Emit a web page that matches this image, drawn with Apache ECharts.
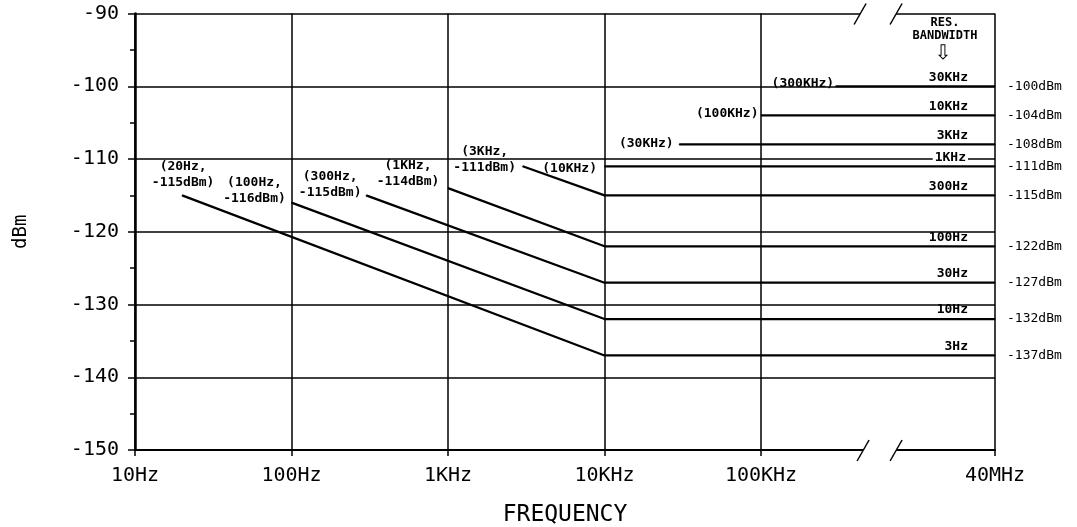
<!DOCTYPE html>
<html><head><meta charset="utf-8">
<script src="https://cdn.jsdelivr.net/npm/echarts@6/dist/echarts.min.js"></script>
<style>html,body{margin:0;padding:0;background:#fff}#c{width:1077px;height:527px}</style>
</head><body><div id="c"></div>
<script>
// ---------- data ----------
const xTickFreqs  = [10, 100, 1e3, 1e4, 1e5, 4e7];
const xTickLabels = ['10Hz', '100Hz', '1KHz', '10KHz', '100KHz', '40MHz'];
const yTicks      = [-150, -140, -130, -120, -110, -100, -90];
const rbwNames    = ['3Hz', '10Hz', '30Hz', '100Hz', '300Hz', '1KHz', '3KHz', '10KHz', '30KHz'];
const startFreqs  = [20, 100, 300, 1e3, 3e3, 1e4, 3e4, 1e5, 3e5];
const startLevels = [-115, -116, -115, -114, -111, -111, -108, -104, -100];
const floorLevels = [-137, -132, -127, -122, -115, -111, -108, -104, -100];
const startLabels = ['(20Hz,\n-115dBm)', '(100Hz,\n-116dBm)', '(300Hz,\n-115dBm)', '(1KHz,\n-114dBm)',
                     '(3KHz,\n-111dBm)', '(10KHz)', '(30KHz)', '(100KHz)', '(300KHz)'];
const endLabels   = ['-137dBm', '-132dBm', '-127dBm', '-122dBm', '-115dBm', '-111dBm', '-108dBm', '-104dBm', '-100dBm'];
const kneeFreq = 1e4;   // sloped curves reach their floor here
const endFreq  = 4e7;

// ---------- broken log frequency scale (decades from 10Hz) ----------
const BREAK_AT = 1e6, BREAK_SHIFT = 1.107;
function pos(f) { const u = Math.log10(f) - 1; return f > BREAK_AT ? u - BREAK_SHIFT : u; }

const MONO = '"DejaVu Sans Mono", "Liberation Mono", monospace';
const annoFont = { fontFamily: MONO, fontSize: 13, fontWeight: 'bold', color: '#000' };

// start label placement (style only)
const startPlace = [
  { position: 'top', distance: 0, offset: [1, -4] },
  { position: 'top', distance: 0, offset: [-37, 4] },
  { position: 'top', distance: 0, offset: [-36, 6] },
  { position: 'top', distance: 0, offset: [-40, 2] },
  { position: 'top', distance: 0, offset: [-38, 10] },
  { position: 'left', distance: 7, offset: [0, 2] },
  { position: 'left', distance: 5, offset: [0, -1] },
  { position: 'left', distance: 2, offset: [0, -2] },
  { position: 'left', distance: 1, offset: [0, -3] }
];

const series = rbwNames.map((name, i) => {
  const pts = [[pos(startFreqs[i]), startLevels[i]]];
  if (startFreqs[i] < kneeFreq) pts.push([pos(kneeFreq), floorLevels[i]]);
  pts.push([pos(endFreq), floorLevels[i]]);
  const data = pts.map(p => ({ value: p }));
  data[0].label = Object.assign({ show: true, formatter: startLabels[i], align: 'center', lineHeight: 16 },
                                annoFont, startPlace[i]);
  if (startPlace[i].position === 'left') data[0].label.align = 'right';
  data[data.length - 1].label = Object.assign({ show: true, formatter: name, position: 'top', distance: 2,
                                align: 'right', offset: [-27, 0] }, annoFont,
                                name === '1KHz' ? { backgroundColor: '#fff', padding: [0, 2] } : {});
  return {
    type: 'line', name: name, data: data,
    symbol: 'circle', symbolSize: 1, showSymbol: true,
    itemStyle: { color: '#000' },
    lineStyle: { color: '#000', width: 2.2 },
    label: { show: false },
    emphasis: { disabled: true },
    endLabel: { show: true, formatter: endLabels[i], distance: 12, fontFamily: MONO, fontSize: 13, color: '#000' },
    z: 3, animation: false
  };
});

const chart = echarts.init(document.getElementById('c'), null, { renderer: 'canvas' });
const xVals = xTickFreqs.map(pos);
chart.setOption({
  animation: false,
  backgroundColor: '#fff',
  grid: { left: 135, right: 82, top: 13.5, bottom: 77, containLabel: false, outerBoundsMode: 'none' },
  xAxis: {
    type: 'value', min: 0, max: pos(endFreq),
    name: 'FREQUENCY', nameLocation: 'middle', nameGap: 54,
    nameTextStyle: { fontFamily: MONO, fontSize: 23, color: '#000' },
    axisLine: { show: true, lineStyle: { color: '#000', width: 2 } },
    axisTick: { show: true, customValues: xVals, length: 6, lineStyle: { color: '#000', width: 1.5 } },
    axisLabel: {
      customValues: xVals, margin: 16, fontFamily: MONO, fontSize: 20, color: '#000',
      formatter: v => { let k = 0; xVals.forEach((x, j) => { if (Math.abs(x - v) < Math.abs(xVals[k] - v)) k = j; }); return xTickLabels[k]; }
    },
    splitLine: { show: true, lineStyle: { color: '#000', width: 1.5 } }
  },
  yAxis: {
    type: 'value', min: yTicks[0], max: yTicks[yTicks.length - 1], interval: 10,
    name: 'dBm', nameLocation: 'middle', nameGap: 104, nameRotate: 90,
    nameTextStyle: { fontFamily: MONO, fontSize: 19, color: '#000' },
    axisLine: { show: true, lineStyle: { color: '#000', width: 2.5 } },
    axisTick: { show: true, length: 7, lineStyle: { color: '#000', width: 1.5 } },
    minorTick: { show: true, splitNumber: 2, length: 5, lineStyle: { color: '#000', width: 1.5 } },
    axisLabel: { margin: 16, fontFamily: MONO, fontSize: 20, color: '#000' },
    splitLine: { show: true, lineStyle: { color: '#000', width: 1.5 } }
  },
  series: series
});

// ---------- decorations: axis break marks and header ----------
const gapStart = 4.633, gapEnd = 4.863;
const yTop = yTicks[yTicks.length - 1], yBot = yTicks[0];
const g = [];
[[yTop, 0], [yBot, 3]].forEach(([yv, dx]) => {
  const a = chart.convertToPixel({ gridIndex: 0 }, [gapStart, yv]);
  const b = chart.convertToPixel({ gridIndex: 0 }, [gapEnd, yv]);
  g.push({ type: 'rect', z: 100, shape: { x: a[0] + dx, y: a[1] - 3, width: b[0] - a[0] - dx, height: 6 }, style: { fill: '#fff' } });
  [a[0] + dx, b[0]].forEach(x => g.push({ type: 'line', z: 101,
    shape: { x1: x - 6, y1: a[1] + 11, x2: x + 6, y2: a[1] - 10 }, style: { stroke: '#000', lineWidth: 1.5 } }));
});
const r = chart.convertToPixel({ gridIndex: 0 }, [pos(endFreq), yTop]);
const cx = r[0] - 50;
g.push({ type: 'text', z: 101, style: { text: 'RES.', x: cx, y: r[1] + 9, align: 'center', verticalAlign: 'middle', font: 'bold 12px ' + MONO, fill: '#000' } });
g.push({ type: 'text', z: 101, style: { text: 'BANDWIDTH', x: cx, y: r[1] + 22, align: 'center', verticalAlign: 'middle', font: 'bold 12px ' + MONO, fill: '#000' } });
g.push({ type: 'text', z: 101, style: { text: '\u21E9', x: cx - 2, y: r[1] + 40, align: 'center', verticalAlign: 'middle', font: '20px "DejaVu Sans"', fill: '#000' } });
chart.setOption({ graphic: g });
</script>
</body></html>
